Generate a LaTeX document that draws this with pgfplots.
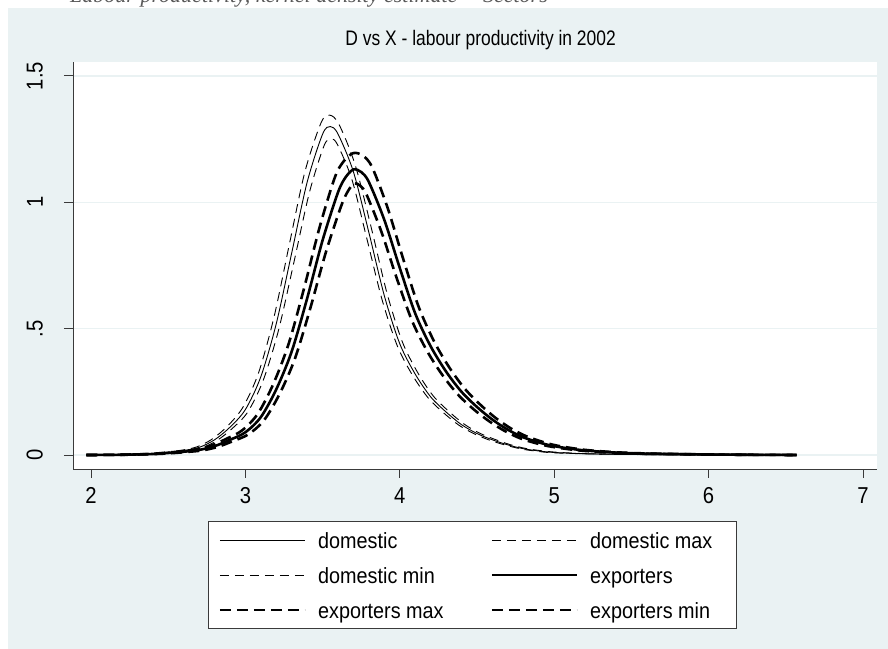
\documentclass[border=0pt]{standalone}
\usepackage{fontspec}
\setmainfont{Liberation Sans}[FakeStretch=0.9]
\newfontfamily\titlefont{Liberation Sans}[FakeStretch=0.83]
\newfontfamily\tickfont{Liberation Sans}[FakeStretch=0.88]
\newfontfamily\serifit{Liberation Serif}
\usepackage{pgfplots}
\pgfplotsset{compat=1.18}
\definecolor{stbg}{HTML}{EAF2F3}
\definecolor{axgray}{HTML}{3A3A3A}
\newcommand{\fnt}{\fontsize{22bp}{26bp}\selectfont}
\begin{document}
\begin{tikzpicture}
\useasboundingbox (0,0) rectangle (888bp,649bp);
\clip (0,0) rectangle (888bp,649bp);
\fill[stbg] (8bp,0) rectangle (888bp,641bp);
\node[anchor=base east, text=black!65, inner sep=0pt, font=\fontsize{22bp}{24bp}\serifit\itshape] at (548bp,646bp) {Labour productivity, kernel density estimate -- Sectors};
\begin{axis}[
  at={(73bp,180bp)}, anchor=south west,
  scale only axis, width=804bp, height=407bp,
  xmin=1.8834, xmax=7.0907, ymin=-0.0554, ymax=1.5554,
  axis lines=left, axis line style={-, draw=axgray, line width=1bp},
  axis background/.style={fill=white},
  xtick={2,3,4,5,6,7}, ytick={0,0.5,1,1.5}, yticklabels={0,.5,1,1.5},
  tick align=outside, major tick length=9bp,
  tick style={draw=axgray, line width=1bp},
  ymajorgrids, grid style={stbg, line width=1.5bp},
  /pgf/number format/assume math mode=true,
  every tick label/.append style={font=\fontsize{23bp}{26bp}\tickfont},
  yticklabel style={xshift=-21bp, rotate=90, anchor=south, inner sep=0pt},
  xticklabel style={anchor=north, inner sep=0pt, yshift=-9bp},
  title={D vs X - labour productivity in 2002},
  title style={font=\fontsize{21bp}{24bp}\titlefont, at={(0.507,1)}, anchor=base, yshift=11bp},
  legend columns=2,
  legend cell align=left,
  legend style={at={(0.1679,-0.1278)}, anchor=north west, draw=axgray, line width=1.2bp,
    fill=white, font=\fnt, inner xsep=10bp, inner ysep=7bp, row sep=11bp,
    /tikz/every odd column/.append style={column sep=10bp},
    /tikz/every even column/.append style={column sep=45bp}},
  legend image code/.code={\draw[#1] (0bp,0bp) -- (85bp,0bp);},
]
\addplot[black, line width=0.9bp, smooth] coordinates {
(1.97,0) (2.2,0.001) (2.4,0.004) (2.5,0.01) (2.6,0.018) (2.7,0.03) (2.8,0.06) (2.9,0.11) (3.0,0.18) (3.1,0.31) (3.2,0.52) (3.3,0.80) (3.4,1.08) (3.5,1.27) (3.55,1.30) (3.6,1.27) (3.7,1.12) (3.8,0.88) (3.9,0.63) (4.0,0.44) (4.1,0.32) (4.2,0.23) (4.3,0.17) (4.4,0.12) (4.5,0.085) (4.6,0.06) (4.7,0.04) (4.8,0.025) (4.9,0.016) (5.0,0.01) (5.2,0.005) (5.5,0.002) (6.0,0.001) (6.57,0)};
\addlegendentry{\strut domestic}
\addplot[black, line width=0.9bp, dash pattern=on 9bp off 6bp, smooth] coordinates {
(1.97,0) (2.185,0.001) (2.385,0.004) (2.485,0.011) (2.585,0.019) (2.685,0.032) (2.785,0.063) (2.885,0.115) (2.985,0.19) (3.085,0.325) (3.185,0.545) (3.285,0.835) (3.385,1.12) (3.49,1.315) (3.545,1.345) (3.605,1.31) (3.71,1.15) (3.815,0.9) (3.915,0.645) (4.015,0.45) (4.115,0.327) (4.215,0.235) (4.315,0.174) (4.415,0.123) (4.515,0.087) (4.615,0.062) (4.715,0.041) (4.815,0.026) (4.915,0.017) (5.015,0.011) (5.215,0.005) (5.515,0.002) (6.015,0.001) (6.57,0)};
\addlegendentry{\makebox[134bp][l]{\strut domestic max}}
\addplot[black, line width=0.9bp, dash pattern=on 9bp off 6bp, smooth] coordinates {
(1.97,0) (2.215,0.001) (2.415,0.004) (2.515,0.009) (2.615,0.017) (2.715,0.028) (2.815,0.057) (2.915,0.105) (3.015,0.17) (3.115,0.295) (3.215,0.495) (3.315,0.765) (3.415,1.04) (3.51,1.225) (3.555,1.25) (3.595,1.23) (3.69,1.09) (3.785,0.86) (3.885,0.615) (3.985,0.43) (4.085,0.313) (4.185,0.225) (4.285,0.166) (4.385,0.117) (4.485,0.083) (4.585,0.058) (4.685,0.039) (4.785,0.024) (4.885,0.015) (4.985,0.009) (5.185,0.005) (5.485,0.002) (5.985,0.001) (6.57,0)};
\addlegendentry{\strut domestic min}
\addplot[black, line width=2.6bp, smooth] coordinates {
(1.97,0) (2.2,0.001) (2.4,0.004) (2.5,0.008) (2.6,0.013) (2.7,0.02) (2.8,0.035) (2.9,0.06) (3.0,0.09) (3.1,0.15) (3.2,0.26) (3.3,0.41) (3.4,0.62) (3.5,0.85) (3.6,1.04) (3.65,1.10) (3.7,1.13) (3.75,1.12) (3.8,1.08) (3.9,0.93) (4.0,0.74) (4.1,0.56) (4.2,0.43) (4.3,0.33) (4.4,0.25) (4.5,0.19) (4.6,0.14) (4.7,0.10) (4.8,0.07) (4.9,0.05) (5.0,0.035) (5.2,0.018) (5.5,0.007) (6.0,0.002) (6.57,0)};
\addlegendentry{\makebox[134bp][l]{\strut exporters}}
\addplot[black, line width=2.6bp, dash pattern=on 11bp off 6bp, smooth] coordinates {
(1.97,0) (2.18,0.001) (2.38,0.004) (2.48,0.009) (2.58,0.014) (2.68,0.022) (2.78,0.038) (2.88,0.065) (2.98,0.098) (3.08,0.163) (3.18,0.28) (3.28,0.44) (3.38,0.66) (3.48,0.9) (3.58,1.1) (3.64,1.165) (3.70,1.195) (3.76,1.185) (3.82,1.14) (3.92,0.98) (4.02,0.78) (4.12,0.59) (4.22,0.452) (4.32,0.347) (4.42,0.263) (4.52,0.2) (4.62,0.147) (4.72,0.105) (4.82,0.074) (4.92,0.053) (5.02,0.037) (5.22,0.019) (5.52,0.0075) (6.02,0.002) (6.57,0)};
\addlegendentry{\strut exporters max}
\addplot[black, line width=2.6bp, dash pattern=on 11bp off 6bp, smooth] coordinates {
(1.97,0) (2.22,0.001) (2.42,0.004) (2.52,0.007) (2.62,0.012) (2.72,0.018) (2.82,0.032) (2.92,0.055) (3.02,0.082) (3.12,0.137) (3.22,0.24) (3.32,0.38) (3.42,0.58) (3.52,0.80) (3.62,0.985) (3.665,1.045) (3.705,1.075) (3.745,1.065) (3.785,1.03) (3.88,0.885) (3.98,0.70) (4.08,0.53) (4.18,0.408) (4.28,0.313) (4.38,0.237) (4.48,0.18) (4.58,0.133) (4.68,0.095) (4.78,0.066) (4.88,0.047) (4.98,0.033) (5.18,0.017) (5.48,0.0065) (5.98,0.002) (6.57,0)};
\addlegendentry{\makebox[134bp][l]{\strut exporters min}}
\end{axis}
\end{tikzpicture}
\end{document}
